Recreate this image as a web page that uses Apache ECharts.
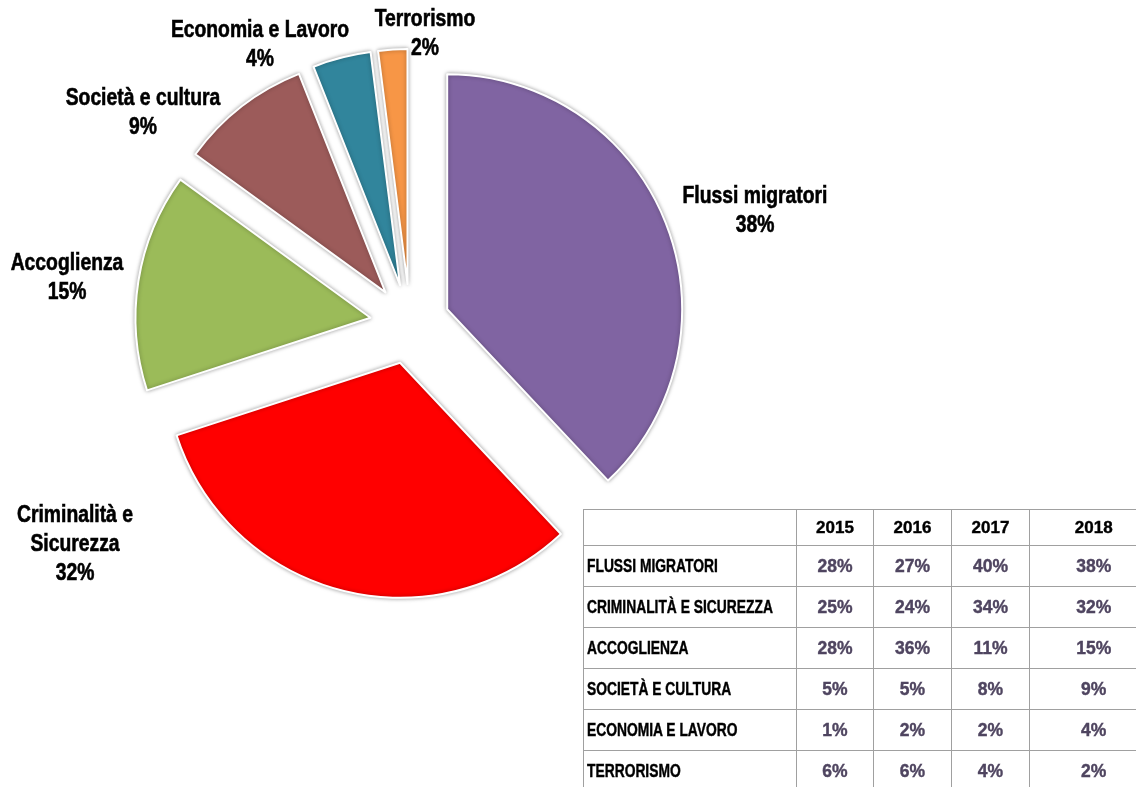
<!DOCTYPE html>
<html>
<head>
<meta charset="utf-8">
<script src="https://cdn.jsdelivr.net/npm/echarts@6/dist/echarts.min.js"></script>
<style>
  html, body { margin: 0; padding: 0; background: #fff; overflow: hidden; }
  #chart { position: absolute; left: 0; top: 0; width: 1136px; height: 787px; }
  #tbl {
    position: absolute; left: 583px; top: 509px;
    border-collapse: collapse; table-layout: fixed; width: 574px;
    font-family: "Liberation Sans", Arial, sans-serif;
    font-weight: bold;
    -webkit-text-stroke: 0.4px;
  }
  #tbl td, #tbl th { border: 1.5px solid #a0a0a0; padding: 0; white-space: nowrap; overflow: hidden; }
  #tbl tr { height: 41px; }
  #tbl tr.head { height: 36px; }
  #tbl th { color: #000; font-size: 17px; text-align: center; }
  #tbl td.name { color: #000; font-size: 17.5px; text-align: left; padding-left: 3px; }
  #tbl td.name span { display: inline-block; transform: scaleX(0.79); transform-origin: left center; }
  #tbl td.val { color: #4f4560; font-size: 17.5px; text-align: center; }
  #tbl th:last-child, #tbl td:last-child { border-right: none; }
</style>
</head>
<body>
<div id="chart"></div>
<table id="tbl">
  <colgroup><col style="width:213px"><col style="width:77px"><col style="width:78px"><col style="width:78px"><col style="width:128px"></colgroup>
</table>
<script>
// dati 2018 (torta)
const categories = ['Flussi migratori', 'Criminalità e Sicurezza', 'Accoglienza', 'Società e cultura', 'Economia e Lavoro', 'Terrorismo']
const values2018 = [38, 32, 15, 9, 4, 2]
const colors = ['#8064a2', '#ff0000', '#9bbb59', '#9c5b5a', '#31859c', '#f79646']

// tabella per anno
const years = ['2015', '2016', '2017', '2018']
const tableRows = ['FLUSSI MIGRATORI', 'CRIMINALITÀ E SICUREZZA', 'ACCOGLIENZA', 'SOCIETÀ E CULTURA', 'ECONOMIA E LAVORO', 'TERRORISMO']
const flussi = [28, 27, 40, 38]
const criminalita = [25, 24, 34, 32]
const accoglienza = [28, 36, 11, 15]
const societa = [5, 5, 8, 9]
const economia = [1, 2, 2, 4]
const terrorismo = [6, 6, 4, 2]
const tableValues = [flussi, criminalita, accoglienza, societa, economia, terrorismo]

// posizione delle etichette (centro del blocco di testo)
const labelPos = [[755, 211], [75, 545], [67, 278], [143, 113], [260, 45], [425, 34]]

const chart = echarts.init(document.getElementById('chart'))

// etichette spostate a mano come nell'originale
const labels = categories.map((name, i) => ({
  type: 'text',
  x: labelPos[i][0],
  y: labelPos[i][1],
  scaleX: 0.84,
  style: {
    text: name.replace('e Sicurezza', 'e\nSicurezza') + '\n' + values2018[i] + '%',
    fill: '#000',
    stroke: '#000',
    lineWidth: 0.6,
    font: 'bold 23px "Liberation Sans", Arial, sans-serif',
    lineHeight: 29,
    textAlign: 'center',
    textVerticalAlign: 'middle'
  }
}))

chart.setOption({
  animation: false,
  graphic: labels,
  series: [
    {
      type: 'pie',
      center: [410, 324],
      radius: 235,
      startAngle: 90,
      clockwise: true,
      selectedMode: 'multiple',
      selectedOffset: 40,
      avoidLabelOverlap: false,
      data: categories.map((name, i) => ({
        name: name,
        value: values2018[i],
        selected: true,
        itemStyle: { color: colors[i] }
      })),
      itemStyle: {
        borderColor: '#fff',
        borderWidth: 2,
        shadowBlur: 4,
        shadowColor: 'rgba(0, 0, 0, 0.35)'
      },
      select: { itemStyle: { borderColor: '#fff', borderWidth: 2 } },
      label: { show: false },
      labelLine: { show: false }
    }
  ]
})

// tabella
const tbl = document.getElementById('tbl')
let html = '<tr class="head"><th></th>' + years.map(y => '<th>' + y + '</th>').join('') + '</tr>'
tableRows.forEach((r, i) => {
  html += '<tr><td class="name"><span>' + r + '</span></td>' +
    tableValues[i].map(v => '<td class="val">' + v + '%</td>').join('') + '</tr>'
})
tbl.insertAdjacentHTML('beforeend', html)
</script>
</body>
</html>
